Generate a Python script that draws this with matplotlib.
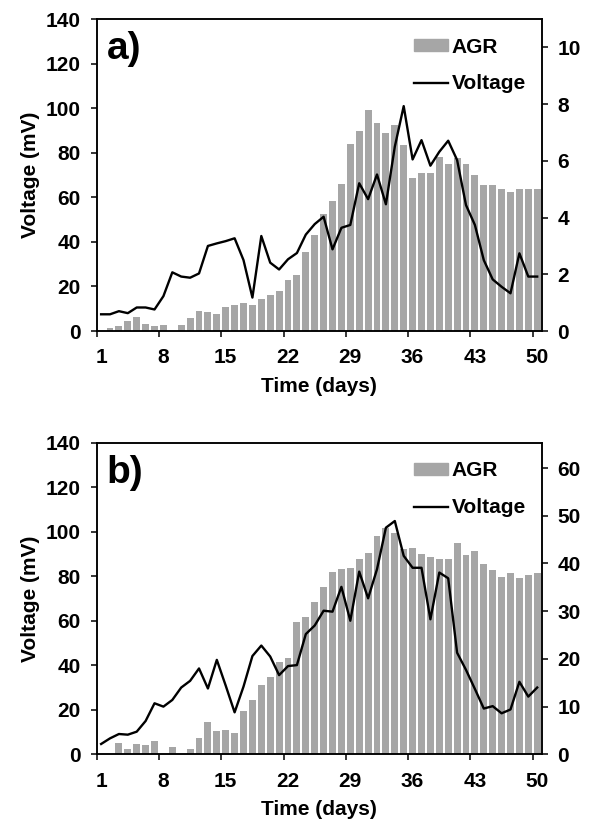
import numpy as np
import matplotlib
matplotlib.use("Agg")
import matplotlib.pyplot as plt
from matplotlib.patches import Patch
from matplotlib.lines import Line2D

plt.rcParams['font.family'] = ['Liberation Sans', 'DejaVu Sans']
plt.rcParams['font.weight'] = 'bold'

days = np.arange(1, 51)

# panel a) AGR bars (left axis) and voltage line (right axis)
agr_a = [0, 1.2, 2.4, 4.5, 6.4, 3.0, 2.2, 2.7, 0, 2.7,
         6.0, 9.0, 8.4, 7.5, 10.6, 11.7, 12.6, 11.8, 14.5, 16.3,
         17.9, 22.9, 25.1, 35.6, 43.1, 52.3, 58.3, 65.8, 84.0, 89.7,
         99.4, 93.2, 88.7, 92.4, 83.7, 68.8, 70.7, 70.7, 78.2, 74.9,
         77.7, 74.9, 70.0, 65.5, 65.5, 63.7, 62.4, 63.7, 63.7, 63.7]
volt_a = [0.59, 0.59, 0.70, 0.63, 0.83, 0.83, 0.76, 1.23, 2.07, 1.92,
          1.88, 2.03, 3.0, 3.09, 3.17, 3.27, 2.5, 1.18, 3.35, 2.41,
          2.17, 2.53, 2.75, 3.4, 3.77, 4.03, 2.88, 3.64, 3.74, 5.21,
          4.65, 5.52, 4.47, 6.5, 7.93, 6.05, 6.73, 5.83, 6.32, 6.71,
          6.03, 4.44, 3.74, 2.50, 1.82, 1.56, 1.33, 2.74, 1.92, 1.92]

# panel b)
agr_b = [0.3, 0.3, 4.9, 2.2, 4.6, 4.3, 6.0, 0, 3.1, 0,
         2.4, 7.2, 14.5, 10.3, 10.9, 9.6, 19.5, 24.6, 31.0, 34.9,
         41.5, 43.1, 59.6, 61.5, 68.3, 75.3, 81.8, 83.3, 83.7, 87.9,
         90.6, 98.2, 101.5, 99.3, 92.2, 92.8, 89.8, 88.6, 87.9, 87.9,
         94.8, 89.4, 91.3, 85.7, 82.7, 79.7, 81.5, 79.2, 80.7, 81.5]
volt_b = [2.17, 3.35, 4.26, 4.12, 4.75, 6.99, 10.7, 10.0, 11.4, 14.0,
          15.4, 18.0, 13.8, 19.8, 14.4, 8.8, 14.2, 20.6, 22.8, 20.5,
          16.6, 18.5, 18.7, 25.2, 27.0, 30.1, 29.9, 35.1, 28.0, 38.3,
          32.7, 38.8, 47.5, 48.9, 41.6, 39.1, 39.1, 28.3, 38.1, 36.9,
          21.3, 17.7, 13.7, 9.6, 10.1, 8.6, 9.4, 15.2, 12.1, 14.0]

x_labels = [1, 8, 15, 22, 29, 36, 43, 50]

BAR_COLOR = '#a6a6a6'
FS = 15

fig = plt.figure(figsize=(5.96, 8.21), dpi=100)


def make_panel(rect, agr, volt, right_max, right_step, tag):
    ax = fig.add_axes(rect)
    ax.bar(days, agr, width=0.78, color=BAR_COLOR, zorder=2)
    ax.set_xlim(0.5, 50.5)
    ax.set_ylim(0, 140)
    ax.set_yticks(np.arange(0, 141, 20))
    ax.set_xticks(x_labels)
    ax.set_xticks(np.arange(0.5, 50, 7), minor=True)
    ax.tick_params(axis='x', which='major', length=0, pad=12.5, labelsize=FS)
    ax.tick_params(axis='x', which='minor', length=4.5, width=1.1, direction='out')
    ax.tick_params(axis='y', length=4.5, width=1.1, direction='out', pad=7, labelsize=FS)
    for s in ax.spines.values():
        s.set_linewidth(1.1)
    ax.set_ylabel('Voltage (mV)', fontsize=FS, fontweight='bold', labelpad=4)
    ax.set_xlabel('Time (days)', fontsize=FS, fontweight='bold', labelpad=7)

    ax2 = ax.twinx()
    ax2.plot(days, volt, color='black', lw=1.7)
    ax2.set_ylim(0, right_max)
    ax2.set_yticks(np.arange(0, right_max, right_step))
    ax2.tick_params(axis='y', length=4.5, width=1.1, direction='out', pad=7, labelsize=FS)
    for s in ax2.spines.values():
        s.set_linewidth(1.1)

    ax.text(0.022, 0.962, tag, transform=ax.transAxes, fontsize=28,
            fontweight='bold', va='top', ha='left')

    handles = [Patch(color=BAR_COLOR), Line2D([], [], color='black', lw=1.7)]
    ax2.legend(handles, ['AGR', 'Voltage'], loc='upper left',
               bbox_to_anchor=(0.713, 0.94), frameon=False,
               borderpad=0, borderaxespad=0,
               handlelength=1.64, handleheight=0.5, handletextpad=0.18,
               labelspacing=0.85, prop={'weight': 'bold', 'size': FS})
    for lab in ax.get_xticklabels() + ax.get_yticklabels() + ax2.get_yticklabels():
        lab.set_fontweight('bold')
    return ax


make_panel([0.1622, 0.5968, 0.7466, 0.380], agr_a, volt_a, 11, 2, 'a)')
make_panel([0.1622, 0.0812, 0.7466, 0.3795], agr_b, volt_b, 65.3, 10, 'b)')

fig.savefig('out.png', dpi=100)
